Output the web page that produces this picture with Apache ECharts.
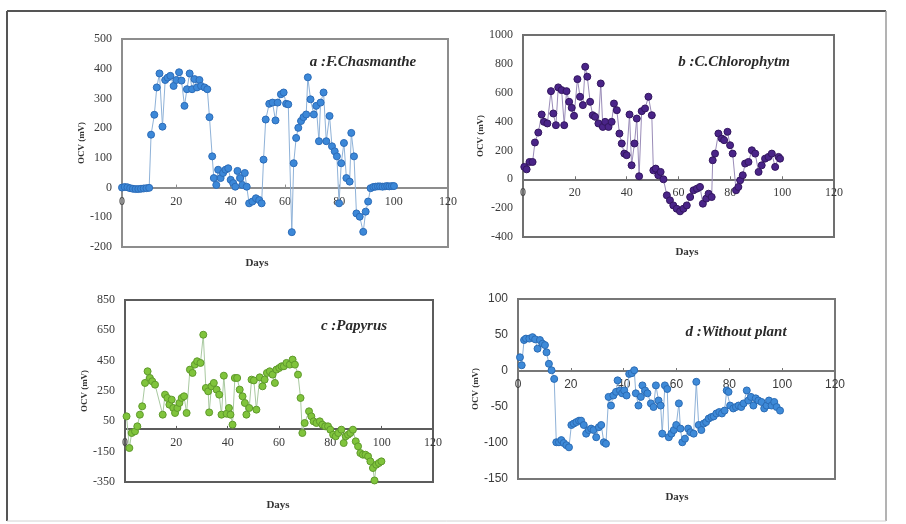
<!DOCTYPE html>
<html>
<head>
<meta charset="utf-8">
<script src="https://cdn.jsdelivr.net/npm/echarts@6/dist/echarts.min.js"></script>
<style>
  html, body { margin: 0; padding: 0; background: #fff; }
  #chart { width: 906px; height: 524px; }
</style>
</head>
<body>
<div id="chart"></div>
<script>
// Open-circuit voltage (mV) over time (days) for four cells.

// a : F.Chasmanthe
const aDays = [
  0, 1, 2, 3, 4, 5, 6, 7, 8, 9, 10,
  10.7, 11.9, 12.8, 13.8, 14.9, 15.9, 16.8, 17.8, 19, 20,
  21, 21.9, 23, 23.9, 24.9, 25.8, 26.7, 27.6, 28.5, 29.1,
  30.4, 31.4, 32.2, 33.2, 33.8, 34.7, 35.4, 36.3, 37.2, 38.1,
  39.1, 40, 40.9, 41.7, 42.5, 43.5, 44.3, 45.2, 45.9, 46.8,
  48, 49.3, 50.5, 51.4, 52.1, 52.9, 54.2, 55.4, 56.5, 57.3,
  58.5, 59.5, 60.4, 61.2, 62.5, 63.2, 64.1, 64.9, 65.9, 66.8,
  67.8, 68.4, 69.4, 70.6, 71.5, 72.5, 73.1, 74.2, 75.2, 76.4,
  77.3, 78.3, 79.1, 79.9, 80.7, 81.7, 82.6, 83.8, 84.4, 85.4,
  86.3, 87.5, 88.8, 89.7, 90.6, 91.5, 92.5, 93.3, 94.2, 95,
  95.9, 96.8, 97.6, 98.4, 99.3, 100.1
];
const aOCV = [
  0, 2, 1, -2, -4, -5, -5, -4, -3, -2, -1,
  178, 245, 337, 384, 205, 362, 370, 376, 342, 362,
  388, 360, 275, 331, 384, 331, 365, 337, 362, 342,
  337, 331, 237, 105, 32, 9, 60, 32, 49, 60,
  65, 26, 15, 3, 56, 32, 9, 49, 3, -53,
  -47, -36, -42, -53, 94, 229, 282, 286, 226, 286,
  314, 320, 282, 280, -150, 82, 167, 201, 224, 237,
  246, 371, 297, 246, 275, 156, 286, 320, 156, 241,
  139, 122, 105, -53, 82, 150, 32, 20, 184, 105,
  -87, -98, -149, -81, -47, -2, 2, 3, 4, 4,
  3, 4, 5, 4, 5, 5
];

// b : C.Chlorophytm
const bDays = [
  0.5, 1.4, 2.5, 3.7, 4.6, 5.9, 7.2, 8.1, 9.4,
  10.8, 11.7, 12.7, 13.6, 14.9, 15.9, 16.8, 17.8, 18.8, 19.7,
  21, 22, 23.1, 24, 24.8, 25.9, 26.9, 27.8, 29.1, 30, 30.8,
  31.7, 33, 34.2, 35.1, 36.2, 37.2, 38.1, 39.1, 40,
  41.1, 41.9, 43, 43.9, 44.8, 45.8, 47.1, 48.4, 49.7,
  50.3, 51.2, 52.2, 53.1, 54.2, 55.5, 56.7, 58, 59.3, 60.6,
  61.9, 63.2, 64.5, 65.8, 67.1, 68.3, 69.4, 70.7, 71.6, 72.8,
  73.2, 74.1, 75.4, 76.7, 77.6, 78.9, 79.9, 80.9,
  82.2, 83.1, 83.8, 84.8, 85.7, 87, 88.3, 89.6,
  90.9, 92.1, 93.4, 94.7, 96, 97.3, 98.6, 99.2
];
const bOCV = [
  86, 69, 120, 120, 255, 324, 449, 398, 387,
  611, 456, 375, 637, 618, 375, 611, 537, 495, 440,
  694, 572, 514, 780, 711, 537, 444, 433, 387, 664, 363,
  398, 363, 398, 525, 479, 317, 248, 178, 167,
  449, 97, 248, 421, 21, 472, 491, 572, 444,
  62, 74, 28, 51, 0, -111, -146, -181, -204, -222,
  -204, -181, -123, -76, -65, -53, -169, -134, -100, -123,
  132, 178, 317, 282, 271, 329, 236, 178,
  -76, -53, -7, 28, 109, 120, 201, 178,
  51, 97, 143, 155, 178, 86, 155, 143
];

// c : Papyrus
const cDays = [
  0.6, 1.7, 2.6, 3.9, 4.8, 5.8, 6.7, 7.8, 8.8, 9.7,
  10.6, 11.7, 14.7, 15.6, 16.5, 17.3, 18.2, 18.8, 19.5, 20.4,
  21.2, 22.1, 23, 24, 25.3, 26.3, 27.2, 28.1, 29.4, 30.5,
  31.5, 32.4, 32.8, 33.7, 34.6, 35.7, 36.7, 37.6, 38.5, 39.6,
  40.5, 41.1, 41.9, 42.8, 43.7, 44.7, 45.8, 46.7, 47.3, 48.4,
  49.3, 50.2, 51.2, 52.5, 53.6, 54.4, 55.3, 56.4, 57.5, 58.4,
  59, 60.1, 61, 61.9, 62.9, 64.2, 65.3, 66.2, 67.4, 68.4,
  69.1, 70, 71.7, 72.6, 73.5, 74.6, 75.9, 76.9, 78, 79.1,
  80, 81.1, 82.1, 83.1, 84.3, 85.2, 86, 86.9, 87.8, 88.8,
  89.9, 90.8, 91.7, 92.7, 93.7, 94.7, 95.6, 96.6, 97.2, 97.9,
  98.9, 99.9
];
const cOCV = [
  83, -126, -27, -16, 17, 94, 149, 303, 380, 336,
  314, 292, 94, 226, 204, 160, 193, 138, 105, 138,
  171, 204, 215, 105, 391, 369, 424, 446, 435, 621,
  270, 248, 109, 281, 303, 259, 226, 94, 351, 100,
  138, 94, 28, 336, 336, 259, 215, 171, 94, 138,
  325, 320, 127, 340, 281, 325, 369, 380, 358, 303,
  391, 402, 413, 413, 435, 424, 457, 424, 358, 204,
  -27, 39, 116, 83, 50, 39, 50, 28, 17, 17,
  -5, -38, -49, -27, -5, -93, -49, -38, -27, -5,
  -82, -115, -159, -170, -170, -181, -214, -258, -340, -236,
  -225, -214
];

// d : Without plant
const dDays = [
  0.75, 1.4, 2.3, 3, 4.3, 5.5, 6.5, 7.4, 8.3, 9.3,
  10.2, 10.8, 11.7, 12.7, 13.7, 14.5, 15.5, 16.4, 17.3, 18.3,
  19.3, 20.2, 21.1, 22.1, 23.1, 23.9, 24.9, 25.8, 26.8, 27.7,
  28.6, 29.6, 30.6, 31.5, 32.5, 33.3, 34.3, 35.2, 36.1, 37.1,
  37.7, 38.6, 39.4, 40.2, 41.1, 42.1, 43.1, 44, 44.6, 45.6,
  46.5, 47.1, 48.1, 49, 50.3, 51.3, 52.2, 53.2, 54, 54.6,
  55.6, 56.5, 57.1, 58.1, 59, 59.9, 60.9, 61.5, 62.2, 63.2,
  64.4, 65.3, 66.5, 67.5, 68.4, 69.4, 70.3, 71.2, 72.2, 73.2,
  74.1, 75.1, 76.2, 77.2, 78.2, 79, 79.7, 80.3, 81.5, 82.5,
  83.5, 84.5, 85.4, 86.6, 87.2, 88.2, 89.1, 90, 91, 92.2,
  93.2, 94.1, 95, 96, 97, 97.9, 99.2
];
const dOCV = [
  19, 8, 43, 45, 45, 47, 44, 31, 43, 38,
  36, 26, 10, 1, -11, -99, -99, -96, -100, -103,
  -106, -75, -73, -71, -69, -69, -75, -87, -82, -80,
  -82, -92, -78, -75, -99, -101, -36, -48, -34, -29,
  -13, -27, -31, -27, -34, -4, -3, 1, -31, -48,
  -36, -20, -27, -31, -45, -50, -20, -41, -48, -87,
  -20, -25, -92, -87, -82, -75, -45, -80, -99, -94,
  -80, -85, -87, -15, -75, -82, -73, -71, -66, -64,
  -63, -59, -57, -59, -55, -27, -29, -48, -52, -50,
  -48, -50, -45, -27, -41, -36, -48, -38, -41, -43,
  -52, -48, -41, -48, -43, -50, -55
];

// Axis ranges and tick labels
const dayTicks = [0, 20, 40, 60, 80, 100, 120];
const yRanges = {
  a: [-200, 500, 100],
  b: [-400, 1000, 200],
  c: [-350, 850, 200],
  d: [-150, 100, 50]
};
const panelTitles = {
  a: 'a :F.Chasmanthe',
  b: 'b :C.Chlorophytm',
  c: 'c :Papyrus',
  d: 'd :Without plant'
};
const yName = 'OCV (mV)';
const xName = 'Days';

const SERIF = '"Liberation Serif", "Times New Roman", serif';
const SANS = '"Liberation Sans", Arial, sans-serif';

const panels = [
  { key: 'a', days: aDays, ocv: aOCV,
    grid: { left: 122, top: 39, width: 326, height: 208 },
    fill: '#3c88d8', edge: '#2c6cb8', line: '#8fb2d8', frame: '#8d8d8d',
    font: SERIF, nameGap: 28, titlePos: [363, 62], daysPos: [257, 263] },
  { key: 'b', days: bDays, ocv: bOCV,
    grid: { left: 523, top: 35, width: 311, height: 202 },
    fill: '#4a2488', edge: '#33165f', line: '#9a8cb8', frame: '#707070',
    font: SERIF, nameGap: 34, titlePos: [734, 62], daysPos: [687, 252] },
  { key: 'c', days: cDays, ocv: cOCV,
    grid: { left: 125, top: 300, width: 308, height: 182 },
    fill: '#80c43c', edge: '#5f9a2c', line: '#a9c9a0', frame: '#5c5c5c',
    font: SERIF, nameGap: 33, titlePos: [354, 326], daysPos: [278, 505] },
  { key: 'd', days: dDays, ocv: dOCV,
    grid: { left: 518, top: 299, width: 317, height: 180 },
    fill: '#3e8ad8', edge: '#2b6cb5', line: '#8fb2d8', frame: '#777777',
    font: SANS, nameGap: 33, titlePos: [736, 332], daysPos: [677, 497] }
];

const grids = [], xAxes = [], yAxes = [], series = [], graphics = [];

panels.forEach((p, i) => {
  const [ymin, ymax, yint] = yRanges[p.key];
  grids.push(Object.assign({
    show: true, borderColor: p.frame, borderWidth: 2,
    backgroundColor: 'transparent', containLabel: false
  }, p.grid));

  // the day axis runs along OCV = 0, labels included
  const zeroOffset = -p.grid.height * (0 - ymin) / (ymax - ymin);
  xAxes.push({
    gridIndex: i, type: 'value', position: 'bottom', offset: zeroOffset,
    min: dayTicks[0], max: dayTicks[dayTicks.length - 1],
    interval: dayTicks[1] - dayTicks[0],
    axisLine: { show: true, onZero: false, lineStyle: { color: p.frame, width: 2 } },
    axisTick: { show: true, inside: true, length: 3, lineStyle: { color: p.frame, width: 1 } },
    axisLabel: { margin: 8, fontFamily: p.font, fontSize: 12, color: '#3a3a3a' },
    splitLine: { show: false }
  });

  yAxes.push({
    gridIndex: i, type: 'value', min: ymin, max: ymax, interval: yint,
    axisLine: { show: false }, axisTick: { show: false }, splitLine: { show: false },
    axisLabel: { margin: 10, fontFamily: p.font, fontSize: 12, color: '#3a3a3a',
                 formatter: v => String(v) },
    name: yName, nameLocation: 'middle', nameRotate: 90, nameGap: p.nameGap,
    nameTextStyle: { fontFamily: SERIF, fontWeight: 'bold', fontSize: 9, color: '#333' }
  });

  series.push({
    type: 'line', xAxisIndex: i, yAxisIndex: i,
    data: p.days.map((d, k) => [d, p.ocv[k]]),
    symbol: 'circle', symbolSize: 7, showSymbol: true,
    itemStyle: { color: p.fill, borderColor: p.edge, borderWidth: 1 },
    lineStyle: { color: p.line, width: 1 },
    emphasis: { disabled: true },
    animation: false
  });

  graphics.push({
    type: 'text', x: p.titlePos[0], y: p.titlePos[1],
    style: { text: panelTitles[p.key], font: 'italic bold 15px ' + SERIF,
             fill: '#2a2a2a', textAlign: 'center', textVerticalAlign: 'middle' }
  });
  graphics.push({
    type: 'text', x: p.daysPos[0], y: p.daysPos[1],
    style: { text: xName, font: 'bold 11px ' + SERIF,
             fill: '#333', textAlign: 'center', textVerticalAlign: 'middle' }
  });
});

// outer frame: dark left/top edges, lighter right/bottom edges
graphics.push(
  { type: 'line', shape: { x1: 7, y1: 11, x2: 886, y2: 11 },
    style: { stroke: '#555', lineWidth: 2 }, z: -1 },
  { type: 'line', shape: { x1: 7, y1: 11, x2: 7, y2: 521 },
    style: { stroke: '#555', lineWidth: 2 }, z: -1 },
  { type: 'line', shape: { x1: 886, y1: 11, x2: 886, y2: 521 },
    style: { stroke: '#9a9a9a', lineWidth: 1.5 }, z: -1 },
  { type: 'line', shape: { x1: 7, y1: 521, x2: 886, y2: 521 },
    style: { stroke: '#d2d2d2', lineWidth: 1 }, z: -1 }
);

const chart = echarts.init(document.getElementById('chart'), null, { renderer: 'canvas' });
chart.setOption({
  backgroundColor: '#ffffff',
  animation: false,
  grid: grids,
  xAxis: xAxes,
  yAxis: yAxes,
  series: series,
  graphic: graphics
});
</script>
</body>
</html>
